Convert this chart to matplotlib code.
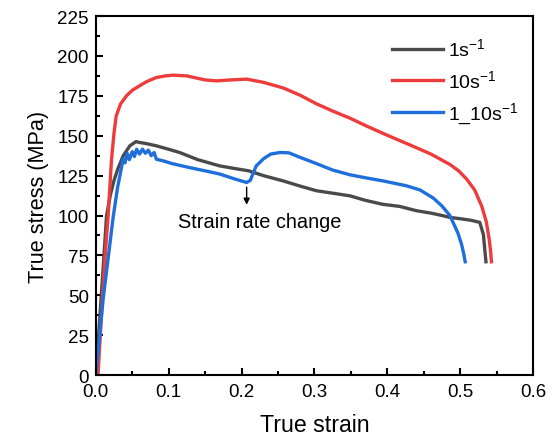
import matplotlib.pyplot as plt
from matplotlib.ticker import MultipleLocator

plt.rcParams['font.family'] = ['Liberation Sans', 'DejaVu Sans']
plt.rcParams['mathtext.fontset'] = 'custom'
plt.rcParams['mathtext.rm'] = 'Liberation Sans'
plt.rcParams['mathtext.it'] = 'Liberation Sans:italic'

# stress-strain curves (true strain, true stress in MPa)
strain_1 = [0.0, 0.005, 0.01, 0.0147, 0.02, 0.025, 0.03, 0.0375, 0.0467, 0.055, 0.06,
            0.07, 0.083, 0.1, 0.115, 0.14, 0.17, 0.19, 0.21, 0.23, 0.257, 0.28,
            0.303, 0.325, 0.349, 0.37, 0.394, 0.417, 0.44, 0.46, 0.477, 0.486,
            0.5, 0.515, 0.527, 0.532, 0.534, 0.5355]
stress_1 = [0.0, 33, 67, 99.8, 113, 122, 129, 137.4, 143.7, 146.3, 145.8,
            145, 143.7, 141.5, 139.5, 135, 131.1, 129.5, 128, 125, 121.7, 118.5,
            115.5, 114, 112.3, 109.5, 107, 105.7, 103, 101.5, 99.8, 98.8,
            98, 97, 95.7, 88, 78, 71]

strain_10 = [0.003, 0.008, 0.012, 0.0169, 0.0215, 0.025, 0.028, 0.034, 0.042, 0.05,
             0.06, 0.07, 0.083, 0.095, 0.106, 0.125, 0.15, 0.166, 0.185, 0.207,
             0.23, 0.257, 0.28, 0.303, 0.325, 0.349, 0.372, 0.394, 0.417, 0.44,
             0.46, 0.476, 0.486, 0.498, 0.509, 0.52, 0.5296, 0.536, 0.54, 0.542, 0.543]
stress_10 = [0.0, 40, 70, 100, 135, 152, 162.5, 170, 175, 178.5,
             181.3, 184, 186.5, 187.5, 188, 187.5, 185, 184.4, 185, 185.5,
             183.5, 180, 175.5, 170, 165.5, 161, 156, 151.5, 147, 142.5,
             138.5, 134.5, 132, 128, 122.8, 116, 106, 96, 85, 77, 71]

strain_mix = [0.0, 0.01, 0.024, 0.03, 0.0375, 0.04, 0.043, 0.046, 0.05, 0.053, 0.056,
              0.06, 0.064, 0.068, 0.072, 0.076, 0.08, 0.083, 0.092, 0.105, 0.129,
              0.15, 0.17, 0.19, 0.207, 0.212, 0.22, 0.23, 0.24, 0.2526, 0.265, 0.28,
              0.303, 0.325, 0.349, 0.372, 0.394, 0.4266, 0.445, 0.463, 0.475, 0.486,
              0.493, 0.497, 0.502, 0.505, 0.507]
stress_mix = [0.0, 47.6, 99.8, 118, 135.3, 133, 139, 135, 140, 137, 141.5,
              138.5, 141.6, 139, 141, 137.5, 139.5, 135.3, 134.3, 132.5, 130,
              128, 126, 123, 120.7, 122, 131, 135.5, 138.5, 139.5, 139.3, 136.5,
              132.5, 128.5, 125.5, 123.5, 121.7, 118.6, 116, 111, 106, 100,
              93, 89, 82, 76, 71]

fig, ax = plt.subplots(figsize=(5.54, 4.39), dpi=100)
fig.subplots_adjust(left=0.173, right=0.962, bottom=0.1435, top=0.961)

ax.plot(strain_1, stress_1, color='#4a4a4a', lw=2.4, label='1s$^{-1}$')
ax.plot(strain_10, stress_10, color='#ee3b3b', lw=2.4, label='10s$^{-1}$')
ax.plot(strain_mix, stress_mix, color='#1e6fdc', lw=2.4, label='1_10s$^{-1}$')

# mark where the rate was switched
ax.annotate('', xy=(0.207, 105), xytext=(0.207, 119.5),
            arrowprops=dict(arrowstyle='-|>', color='black', lw=1.0, mutation_scale=9))
ax.text(0.113, 96.5, 'Strain rate change', fontsize=14.4, va='center', ha='left')

ax.set_xlim(0, 0.6)
ax.set_ylim(0, 225)
ax.xaxis.set_major_locator(MultipleLocator(0.1))
ax.xaxis.set_minor_locator(MultipleLocator(0.05))
ax.yaxis.set_major_locator(MultipleLocator(25))
ax.yaxis.set_minor_locator(MultipleLocator(12.5))
ax.xaxis.set_major_formatter(plt.FormatStrFormatter('%.1f'))
ax.tick_params(which='both', direction='in', width=1.5, labelsize=13.5)
ax.tick_params(which='major', length=5)
ax.tick_params(which='minor', length=3)
ax.tick_params(axis='x', pad=6)
ax.tick_params(axis='y', pad=5)
for s in ax.spines.values():
    s.set_linewidth(1.5)

ax.set_xlabel('True strain', fontsize=16.7, labelpad=9)
ax.set_ylabel('True stress (MPa)', fontsize=15.6, labelpad=6)

ax.legend(loc='upper left', bbox_to_anchor=(0.6766, 0.94), frameon=False, fontsize=14,
          borderpad=0, borderaxespad=0, handlelength=2.63, handletextpad=0.29,
          labelspacing=0.5)

fig.savefig('out.png', dpi=100)
